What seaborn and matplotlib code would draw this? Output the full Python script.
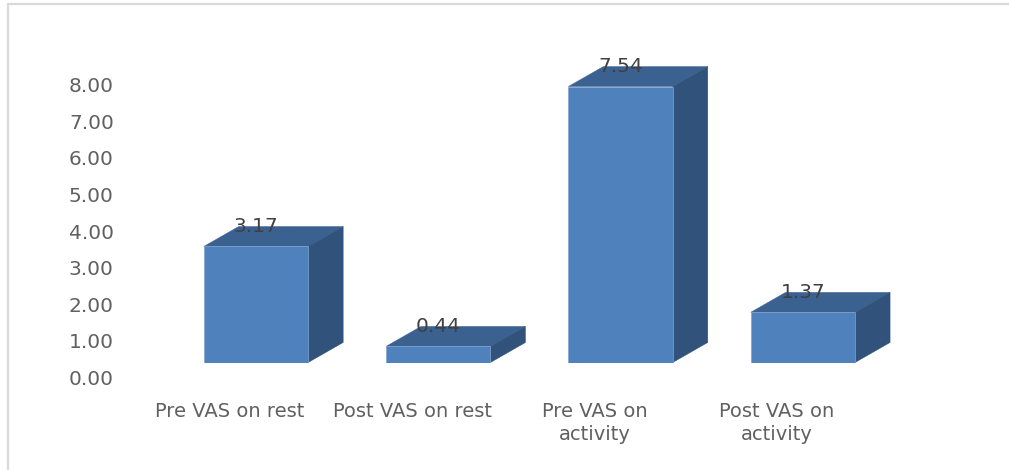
import matplotlib
matplotlib.use("Agg")
import matplotlib.pyplot as plt
from matplotlib.patches import Polygon
from matplotlib.lines import Line2D
import pandas as pd
import seaborn as sns

categories = ["Pre VAS on rest", "Post VAS on rest", "Pre VAS on\nactivity", "Post VAS on\nactivity"]
values = [3.17, 0.44, 7.54, 1.37]
y_ticks = [0, 1, 2, 3, 4, 5, 6, 7, 8]

W, H = 1009, 470
FRONT = "#4f81bd"
TOP = "#3b6190"
SIDE = "#30527b"
TEXT = "#606060"
FONT = "DejaVu Sans"

sns.set_theme(style="white")
plt.rcParams["font.family"] = [FONT]

fig = plt.figure(figsize=(W / 100, H / 100), dpi=100, facecolor="white")


def px_axes(left, right, top, bottom):
    return fig.add_axes([left / W, 1 - bottom / H, (right - left) / W, (bottom - top) / H])


# Plot area: one category is 182.3 px wide, one value unit is 36.6 px tall
left, right, base = 164.8, 894.0, 362.5
unit = 36.6
ymax = 8.6
ax = px_axes(left, right, base - ymax * unit, base)
df = pd.DataFrame({"category": categories, "value": values})
sns.barplot(data=df, x="category", y="value", color=FRONT, saturation=1, width=0.573,
            edgecolor="#7fa3cf", linewidth=0.5, ax=ax, zorder=3)
ax.set_xlim(-0.5, 3.5)
ax.set_ylim(0, ymax)
ax.axis("off")

# Receding faces of each bar, sized in category and value units
depth_x = 35 / 182.3
depth_y = 20 / unit
for bar, value in zip(ax.patches, values):
    x0, x1 = bar.get_x(), bar.get_x() + bar.get_width()
    top_face = [(x0, value), (x1, value), (x1 + depth_x, value + depth_y), (x0 + depth_x, value + depth_y)]
    side_face = [(x1, 0), (x1 + depth_x, depth_y), (x1 + depth_x, value + depth_y), (x1, value)]
    ax.add_patch(Polygon(top_face, closed=True, facecolor=TOP, edgecolor=TOP, linewidth=0.3, zorder=2, clip_on=False))
    ax.add_patch(Polygon(side_face, closed=True, facecolor=SIDE, edgecolor=SIDE, linewidth=0.3, zorder=2, clip_on=False))
    ax.annotate(f"{value:.2f}", xy=((x0 + x1) / 2, value), xytext=(0, 14.4), textcoords="offset points",
                ha="center", va="center", fontsize=14.5, color="#404040", zorder=5, annotation_clip=False)

# Axis labels sit on the front plane of the chart, below and left of the bars
tick_ax = px_axes(left - 26, right - 26, base + 15 - ymax * unit, base + 15)
tick_ax.set_xlim(-0.5, 3.5)
tick_ax.set_ylim(0, ymax)
tick_ax.patch.set_alpha(0)
for spine in tick_ax.spines.values():
    spine.set_visible(False)
tick_ax.set_yticks(y_ticks, [f"{t:.2f}" for t in y_ticks])
tick_ax.set_xticks(range(len(categories)), categories, linespacing=1.25)
tick_ax.tick_params(axis="y", length=0, pad=18, labelsize=14.5, labelcolor=TEXT)
tick_ax.tick_params(axis="x", length=0, pad=17.5, labelsize=14, labelcolor=TEXT)
ax.set_zorder(2)

# Chart border, visible along the top and left edges
border = "#d9d9d9"
fig.add_artist(Line2D([7.5 / W, 7.5 / W], [0, 1 - 3.5 / H], color=border, lw=1.6))
fig.add_artist(Line2D([7.5 / W, 1], [1 - 3.5 / H, 1 - 3.5 / H], color=border, lw=1.6))

fig.savefig("out.png", dpi=100, facecolor="white")
